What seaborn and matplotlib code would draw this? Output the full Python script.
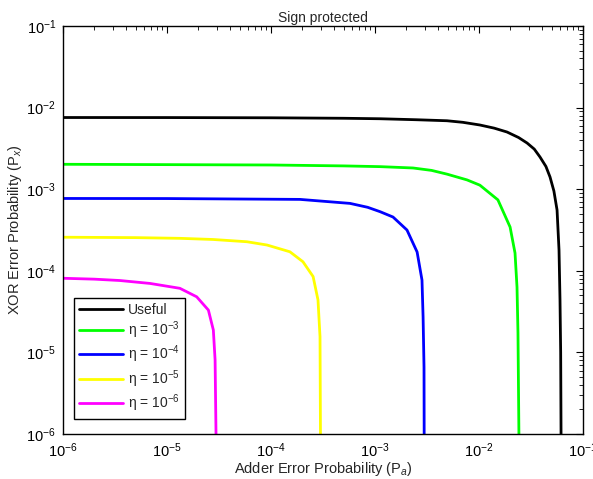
import numpy as np
import pandas as pd
import matplotlib
matplotlib.use("Agg")
import matplotlib.pyplot as plt
import seaborn as sns

# ---- data ----
useful_x = [1e-6, 1e-5, 1e-4, 5e-4, 1.12e-3, 2.5e-3, 4.92e-3, 7e-3, 0.0102, 0.014, 0.0186,
            0.024, 0.029, 0.034, 0.0386, 0.044, 0.0482, 0.0525, 0.0563, 0.0588, 0.0601, 0.061, 0.0615]
useful_y = [7.56e-3, 7.55e-3, 7.5e-3, 7.4e-3, 7.3e-3, 7.1e-3, 6.9e-3, 6.6e-3, 6.12e-3, 5.6e-3, 5.02e-3,
            4.3e-3, 3.68e-3, 3.1e-3, 2.48e-3, 1.9e-3, 1.41e-3, 9.5e-4, 5.56e-4, 1.8e-4, 4.4e-5, 1e-5, 1e-6]

eta3_x = [1e-6, 1e-5, 1e-4, 5e-4, 1.12e-3, 2.32e-3, 3.5e-3, 4.92e-3, 7.67e-3, 0.0102, 0.0152,
          0.0199, 0.0222, 0.0232, 0.0237, 0.0242]
eta3_y = [2.02e-3, 2.0e-3, 1.98e-3, 1.93e-3, 1.89e-3, 1.82e-3, 1.7e-3, 1.53e-3, 1.30e-3, 1.12e-3, 7.4e-4,
          3.44e-4, 1.65e-4, 6.3e-5, 1.73e-5, 1e-6]

eta4_x = [1e-6, 1e-5, 1.9e-4, 5.75e-4, 8.5e-4, 1.12e-3, 1.49e-3, 2.03e-3, 2.54e-3, 2.83e-3, 2.9e-3,
          2.96e-3, 2.97e-3]
eta4_y = [7.7e-4, 7.68e-4, 7.5e-4, 6.7e-4, 6.0e-4, 5.3e-4, 4.56e-4, 3.16e-4, 1.70e-4, 7.7e-5, 2.72e-5,
          6.6e-6, 1e-6]

eta5_x = [1e-6, 5e-6, 1.33e-5, 2.77e-5, 5.87e-5, 9.15e-5, 1.52e-4, 2.03e-4, 2.54e-4, 2.83e-4,
          2.96e-4, 2.99e-4]
eta5_y = [2.58e-4, 2.55e-4, 2.5e-4, 2.42e-4, 2.27e-4, 2.07e-4, 1.71e-4, 1.29e-4, 8.5e-5, 4.4e-5,
          1.56e-5, 1e-6]

eta6_x = [1e-6, 2e-6, 3.53e-6, 6.87e-6, 1.33e-5, 1.93e-5, 2.5e-5, 2.79e-5, 2.9e-5, 2.96e-5]
eta6_y = [8.1e-5, 7.9e-5, 7.6e-5, 7.0e-5, 6.1e-5, 4.8e-5, 3.3e-5, 1.88e-5, 8.1e-6, 1e-6]

labels = ["Useful", r"η = 10$^{-3}$", r"η = 10$^{-4}$", r"η = 10$^{-5}$", r"η = 10$^{-6}$"]
colors = ["#000000", "#00FF00", "#0000FF", "#FFFF00", "#FF00FF"]
series = [(useful_x, useful_y), (eta3_x, eta3_y), (eta4_x, eta4_y),
          (eta5_x, eta5_y), (eta6_x, eta6_y)]

# ---- style ----
sns.set_style("white")
plt.rcParams["font.family"] = ["Liberation Sans", "DejaVu Sans"]
plt.rcParams["mathtext.fontset"] = "custom"
plt.rcParams["mathtext.rm"] = "Liberation Sans"
plt.rcParams["mathtext.it"] = "Liberation Sans:italic"
plt.rcParams["mathtext.bf"] = "Liberation Sans:bold"

fig = plt.figure(figsize=(5.93, 4.79), dpi=100)
ax = fig.add_axes([63 / 593, 1 - 434 / 479, 520 / 593, 408 / 479])

for (xs, ys), lab, col in zip(series, labels, colors):
    df = pd.DataFrame({"x": xs, "y": ys})
    sns.lineplot(data=df, x="x", y="y", ax=ax, color=col, linewidth=2.0,
                 estimator=None, sort=False, label=lab)

ax.set_xscale("log")
ax.set_yscale("log")
ax.set_xlim(1e-6, 1e-1)
ax.set_ylim(1e-6, 1e-1)

ax.tick_params(which="both", direction="in", top=True, right=True,
               labelsize=10.5, colors="black")
ax.tick_params(which="major", length=5, width=0.8, pad=5)
ax.tick_params(which="minor", length=3, width=0.6)
for sp in ax.spines.values():
    sp.set_color("black")
    sp.set_linewidth(1.0)

ax.set_title("Sign protected", fontsize=10, pad=3)
ax.set_xlabel(r"Adder Error Probability (P$_a$)", fontsize=10.5, labelpad=0)
ax.set_ylabel(r"XOR Error Probability (P$_x$)", fontsize=10.5, labelpad=2)

leg = ax.legend(loc="lower left", bbox_to_anchor=(0.021, 0.037), borderaxespad=0,
                fontsize=10, frameon=True, fancybox=False, handlelength=3.2,
                borderpad=0.35, labelspacing=0.2, handletextpad=0.35)
leg.get_frame().set_edgecolor("black")
leg.get_frame().set_linewidth(1.0)
leg.get_frame().set_alpha(1.0)

fig.savefig("out.png", dpi=100)
